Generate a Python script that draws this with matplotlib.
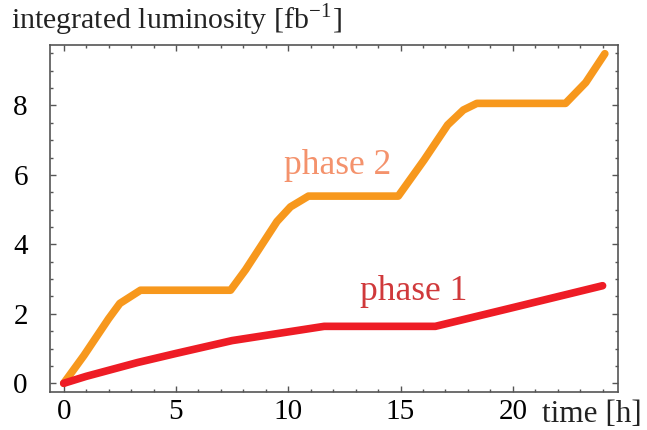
import matplotlib
matplotlib.use("Agg")
import matplotlib.pyplot as plt
from matplotlib.ticker import MultipleLocator

# phase 1 (red)
t_phase1 = [0.0, 1.0, 3.3, 5.0, 7.5, 10.0, 11.6, 16.55, 19.75, 24.0]
lumi_phase1 = [0.0, 0.2, 0.60, 0.86, 1.23, 1.48, 1.64, 1.64, 2.14, 2.81]

# phase 2 (orange)
t_phase2 = [0.0, 0.9, 2.0, 2.5, 3.42, 7.43, 8.1, 9.5, 10.1, 10.9, 14.9,
            16.05, 17.1, 17.8, 18.4, 22.35, 23.25, 24.1]
lumi_phase2 = [0.0, 0.80, 1.86, 2.30, 2.68, 2.68, 3.27, 4.66, 5.08, 5.39, 5.39,
               6.43, 7.44, 7.87, 8.06, 8.06, 8.66, 9.49]

xticks = [0, 5, 10, 15, 20]
yticks = [0, 2, 4, 6, 8]

plt.rcParams["font.family"] = "Liberation Serif"
plt.rcParams["mathtext.fontset"] = "stix"

fig = plt.figure(figsize=(6.47, 4.30), dpi=100)
ax = fig.add_axes([0.0773, 0.0884, 0.8780, 0.8069])

ax.plot(t_phase2, lumi_phase2, color="#F7981D", lw=5.5, solid_capstyle="round",
        solid_joinstyle="round")
ax.plot(t_phase1, lumi_phase1, color="#EE1C25", lw=5.5, solid_capstyle="round",
        solid_joinstyle="round")

ax.set_xlim(-0.61, 24.69)
ax.set_ylim(-0.25, 9.74)
ax.set_xticks(xticks)
ax.set_yticks(yticks)
ax.xaxis.set_minor_locator(MultipleLocator(1))
ax.yaxis.set_minor_locator(MultipleLocator(0.5))
ax.tick_params(which="both", direction="in", top=True, right=True,
               color="#555555", width=1)
ax.tick_params(which="major", length=4.5, labelsize=21)
ax.tick_params(which="minor", length=2.5)
ax.tick_params(axis="y", pad=16)
ax.tick_params(axis="x", pad=5)
for s in ax.spines.values():
    s.set_color("#555555")
    s.set_linewidth(1.2)

ax.text(12.2, 6.28, "phase 2", color="#F4926C", fontsize=25.5, ha="center",
        va="center")
ax.text(15.6, 2.63, "phase 1", color="#D0393B", fontsize=25.5, ha="center",
        va="center")

fig.text(0.017, 0.953, r"integrated luminosity [fb$^{\mathregular{-1}}$]",
         fontsize=21.5, ha="left", va="center", color="#222222")
fig.text(0.992, 0.037, "time [h]", fontsize=22.5, ha="right", va="center",
         color="#222222")

fig.savefig("out.png", dpi=100)
